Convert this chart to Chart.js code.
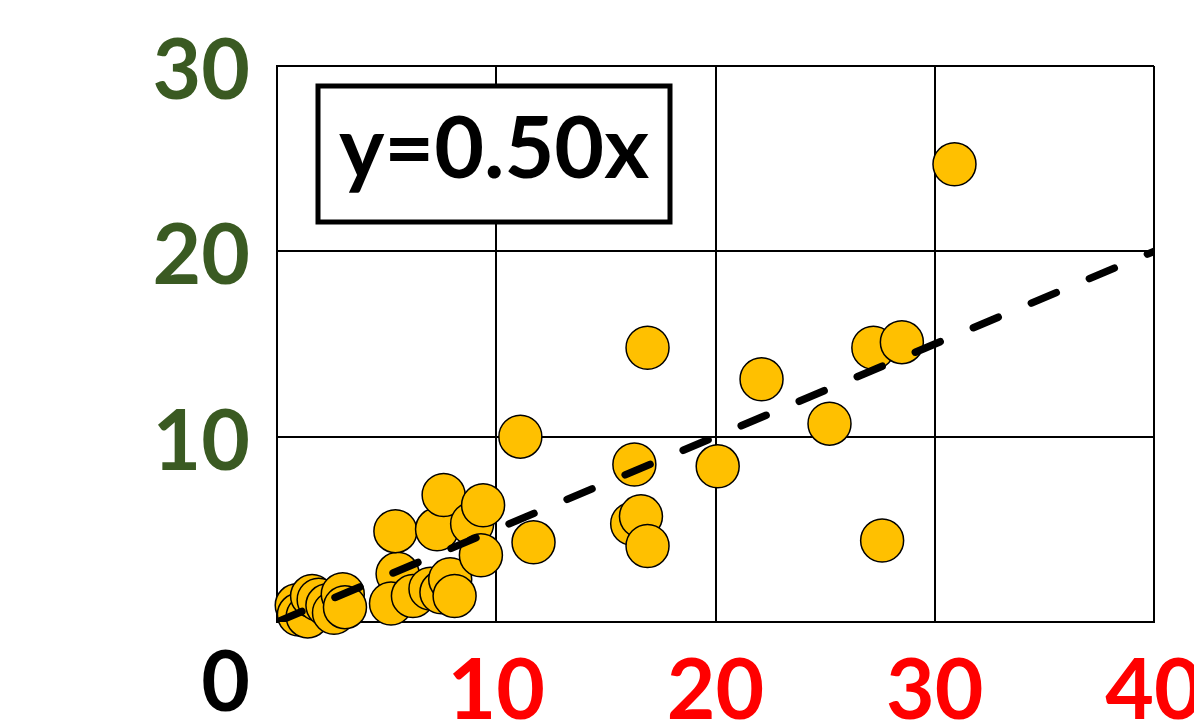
<!DOCTYPE html>
<html>
<head>
<meta charset="utf-8">
<script src="https://cdn.jsdelivr.net/npm/chart.js@4.4.1/dist/chart.umd.min.js"></script>
<style>
  html, body { margin: 0; padding: 0; overflow: hidden; background: #ffffff; }
  #wrap { position: absolute; left: 0; top: 0; width: 1240px; height: 760px; }
</style>
</head>
<body>
<div id="wrap"><canvas id="chart" width="1240" height="760"></canvas></div>
<script>
// Measured values
const xValues = [0.9, 1.0, 1.4, 1.6, 1.9, 2.3, 2.6, 3.0, 3.1,
                 5.5, 5.2, 5.4, 6.2, 7.0, 7.3, 7.5, 7.6, 7.9, 8.1, 8.9, 9.3, 9.4,
                 11.1, 11.7, 16.2, 16.6, 16.9, 16.3, 16.9, 20.1, 22.1, 25.2, 27.2, 28.5, 27.6, 30.9];
const yValues = [0.9, 0.4, 0.3, 1.4, 1.2, 0.9, 0.5, 1.5, 0.8,
                 2.6, 1.0, 4.9, 1.4, 1.8, 5.0, 1.6, 6.85, 2.3, 1.4, 5.3, 3.6, 6.3,
                 10.0, 4.3, 5.3, 5.7, 4.1, 8.5, 14.8, 8.4, 13.1, 10.7, 14.8, 15.1, 4.4, 24.7];

// Fitted line through the origin
const slope = 0.50;
const fitRange = [0, 40];

// Axis ticks
const xTicks = [0, 10, 20, 30, 40];
const yTicks = [0, 10, 20, 30];

const points = xValues.map((x, i) => ({ x: x, y: yValues[i] }));
const fitLine = fitRange.map(x => ({ x: x, y: slope * x }));

const FONT = 'Lato';
const LABEL_SIZE = 84;
const Y_COLOR = '#3a5a22';
const X_COLOR = '#ff0000';

// Origin label shared by both axes, and the equation box
const overlay = {
  id: 'overlay',
  afterDraw(chart) {
    const ctx = chart.ctx;
    const xs = chart.scales.x;
    const ys = chart.scales.y;
    const area = chart.chartArea;
    ctx.save();
    ctx.font = 'bold ' + LABEL_SIZE + 'px ' + FONT;
    ctx.fillStyle = '#000000';
    ctx.textAlign = 'right';
    ctx.textBaseline = 'top';
    ctx.fillText(String(xTicks[0]), ys.right - ys.options.ticks.padding, xs.top + xs.options.ticks.padding);

    // equation box
    const bx = area.left + 41, by = area.top + 20, bw = 352, bh = 136;
    ctx.lineWidth = 5;
    ctx.strokeStyle = '#000000';
    ctx.fillStyle = '#ffffff';
    ctx.fillRect(bx, by, bw, bh);
    ctx.strokeRect(bx, by, bw, bh);
    ctx.fillStyle = '#000000';
    ctx.textAlign = 'center';
    ctx.textBaseline = 'middle';
    ctx.font = 'bold 86px ' + FONT;
    ctx.fillText('y=' + slope.toFixed(2) + 'x', bx + bw / 2, by + bh / 2 - 4);
    ctx.restore();
  }
};

new Chart(document.getElementById('chart'), {
  type: 'scatter',
  data: {
    datasets: [
      {
        type: 'line',
        data: fitLine,
        order: 0,
        borderColor: '#000000',
        borderWidth: 7.5,
        borderDash: [27, 36],
        borderCapStyle: 'round',
        pointRadius: 0,
        fill: false,
        tension: 0
      },
      {
        data: points,
        order: 1,
        backgroundColor: '#ffc000',
        borderColor: '#000000',
        borderWidth: 1.5,
        pointRadius: 21.5,
        pointHoverRadius: 21.5,
        clip: false
      }
    ]
  },
  options: {
    responsive: false,
    animation: false,
    layout: { padding: { left: 0, right: 86, top: 66, bottom: 0 } },
    plugins: { legend: { display: false }, tooltip: { enabled: false } },
    scales: {
      x: {
        type: 'linear',
        min: xTicks[0],
        max: xTicks[xTicks.length - 1],
        afterBuildTicks: s => { s.ticks = xTicks.map(v => ({ value: v })); },
        afterFit: s => { s.height = 138; s.paddingLeft = 0; s.paddingRight = 0; },
        grid: { color: '#000000', lineWidth: 2, drawTicks: false },
        border: { display: true, color: '#000000', width: 2 },
        ticks: {
          padding: 20,
          maxRotation: 0,
          autoSkip: false,
          color: X_COLOR,
          font: { family: FONT, size: LABEL_SIZE, weight: 'bold' },
          callback: v => (v === xTicks[0] ? '' : String(v))
        }
      },
      y: {
        type: 'linear',
        min: yTicks[0],
        max: yTicks[yTicks.length - 1],
        afterBuildTicks: s => { s.ticks = yTicks.map(v => ({ value: v })); },
        afterFit: s => { s.width = 277; s.paddingTop = 0; s.paddingBottom = 0; },
        grid: { color: '#000000', lineWidth: 2, drawTicks: false },
        border: { display: true, color: '#000000', width: 2 },
        ticks: {
          padding: 27,
          labelOffset: 6,
          autoSkip: false,
          color: Y_COLOR,
          font: { family: FONT, size: LABEL_SIZE, weight: 'bold' },
          callback: v => (v === yTicks[0] ? '' : String(v))
        }
      }
    }
  },
  plugins: [overlay]
});
</script>
</body>
</html>
